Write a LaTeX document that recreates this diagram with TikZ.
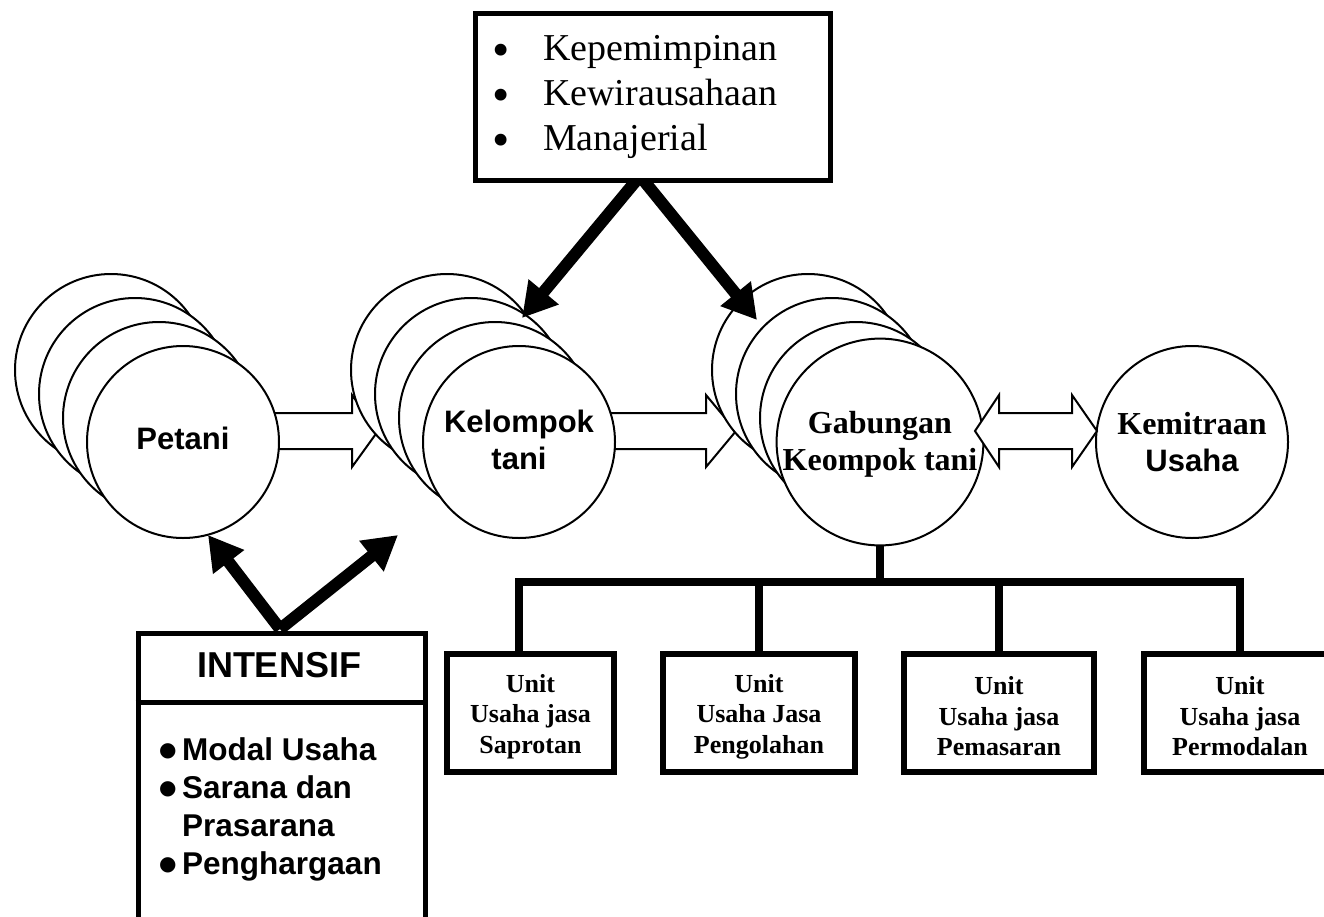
\documentclass[tikz,border=0pt]{standalone}
\usepackage{fontspec}
\setmainfont{Liberation Serif}
\newfontfamily\arialf{Liberation Sans}
\newfontfamily\djv{DejaVu Sans}
\usepackage{graphicx}
\usetikzlibrary{arrows.meta,calc}
\newcommand{\tbul}{\raisebox{-6pt}{\scalebox{1.3}{\textbullet}}}
\newcommand{\ibul}{\hspace{1pt}\raisebox{4pt}{\djv\fontsize{20}{20}\selectfont ●}}
\begin{document}
\begin{tikzpicture}[x=1pt,y=-1pt,
  circ/.style={circle, draw, fill=white, line width=2pt, minimum size=192pt, inner sep=0pt, align=center},
  sanslbl/.style={font=\arialf\bfseries\fontsize{31}{37}\selectfont},
  serlbl/.style={font=\bfseries\fontsize{32}{37}\selectfont},
  blockarr/.style={draw, fill=white, line width=2pt, line join=miter},
  thickarr/.style={line width=12pt, -{Triangle[width=37pt,length=34pt]}},
  unitbox/.style={draw, fill=white, line width=6pt, minimum height=118pt, inner sep=0pt, align=center, font=\bfseries\fontsize{26}{30.5}\selectfont},
  tree/.style={line width=7.5pt, line join=miter},
  frame/.style={draw, fill=white, line width=5pt, inner sep=0pt},
]
\path[use as bounding box, clip] (0,0) rectangle (1324,916);

% circle centres
\coordinate (cP) at (183,442);
\coordinate (cK) at (519,442);
\coordinate (cG) at (880,442);
\coordinate (cM) at (1192,442);

% hollow block arrows (under the circles)
\coordinate (a1s) at ($(cP)+(87,-11)$);
\draw[blockarr] (a1s) ++(0,-18) -- ++(82,0) -- ++(0,-18) -- ++(26,36) -- ++(-26,36) -- ++(0,-18) -- ++(-82,0) -- cycle;
\coordinate (a2s) at ($(cK)+(86,-11)$);
\draw[blockarr] (a2s) ++(0,-18) -- ++(101,0) -- ++(0,-18) -- ++(30,36) -- ++(-30,36) -- ++(0,-18) -- ++(-101,0) -- cycle;

% Petani stack
\node[circ] (pet1) at ($(cP)+(-72,-72)$) {};
\node[circ] (pet2) at ($(cP)+(-48,-48)$) {};
\node[circ] (pet3) at ($(cP)+(-24,-24)$) {};
\node[circ, sanslbl] (pet) at (cP) {Petani\rule[-7pt]{0pt}{7pt}};

% Kelompok tani stack
\node[circ] (kel1) at ($(cK)+(-72,-72)$) {};
\node[circ] (kel2) at ($(cK)+(-48,-48)$) {};
\node[circ] (kel3) at ($(cK)+(-24,-24)$) {};
\node[circ, sanslbl] (kel) at (cK) {Kelompok\\tani\rule[-4pt]{0pt}{4pt}};

% Gabungan stack
\node[circ] (gab1) at ($(cG)+(-72,-72)$) {};
\node[circ] (gab2) at ($(cG)+(-48,-48)$) {};
\node[circ] (gab3) at ($(cG)+(-24,-24)$) {};
\node[circ, serlbl] (gab) at (cG) {\rule{0pt}{26pt}Gabungan\\Keompok tani};

% Kemitraan
\node[circ, serlbl] (kem) at (cM) {Kemitraan\\{\arialf\bfseries\fontsize{31}{37}\selectfont Usaha}};

% double block arrow
\coordinate (dl) at ($(gab.center)+(95,-11)$);
\draw[blockarr] (dl) -- ++(24,-36) -- ++(0,18) -- ++(73,0) -- ++(0,-18) -- ++(25,36) -- ++(-25,36) -- ++(0,-18) -- ++(-73,0) -- ++(0,18) -- cycle;

% thick arrows from the top box
\coordinate (lfoot) at (640,176);
\coordinate (tipK) at (522,318);
\coordinate (tipG) at (757,320);
\draw[thickarr] (lfoot) -- (tipK);
\draw[thickarr] (lfoot) -- (tipG);

% top box
\node[frame, minimum width=355pt, minimum height=167pt, anchor=north west] (lead) at (472.5,10.5) {};
\node[anchor=base west, inner sep=0pt, font=\fontsize{38}{45}\selectfont] (leadtxt) at (492,60)
  {\begin{tabular}[t]{@{}p{51pt}@{}l@{}}\tbul & Kepemimpinan\\ \tbul & Kewirausahaan\\ \tbul & Manajerial\end{tabular}};

% thick arrows from INTENSIF
\coordinate (ifoot) at (280,629);
\coordinate (tipP) at (208,535);
\coordinate (tipKb) at (398,535);
\draw[thickarr] (ifoot) -- (tipP);
\draw[thickarr] (ifoot) -- (tipKb);

% INTENSIF box
\node[frame, minimum width=287pt, minimum height=340pt, anchor=north west] (intensif) at (135.5,630.5) {};
\draw[line width=5pt] (intensif.west |- 0,702) -- (intensif.east |- 0,702);
\node[anchor=base, inner sep=0pt, font=\arialf\bfseries\fontsize{36}{40}\selectfont] (ititle) at (279,677) {INTENSIF};
\node[anchor=base west, inner sep=0pt, font=\arialf\bfseries\fontsize{31.5}{38}\selectfont] (ilist) at (158,760)
  {\begin{tabular}[t]{@{}p{24pt}@{}l@{}}\ibul & Modal Usaha\\ \ibul & Sarana dan\\ & Prasarana\\ \ibul & Penghargaan\end{tabular}};

% unit boxes
\node[unitbox, minimum width=167pt] (u1) at (530.5,713) {\rule{0pt}{25pt}Unit\\Usaha jasa\\Saprotan};
\node[unitbox, minimum width=192pt] (u2) at (759,713) {\rule{0pt}{25pt}Unit\\Usaha Jasa\\Pengolahan};
\node[unitbox, minimum width=190pt] (u3) at (999,713) {\rule{0pt}{25pt}Unit\\Usaha jasa\\Pemasaran};
\node[unitbox, minimum width=192pt] (u4) at (1240,713) {\rule{0pt}{25pt}Unit\\Usaha jasa\\Permodalan};

% tree connectors
\coordinate (bar) at (878,582);
\coordinate (t1) at ($(u1.north)+(-11.5,0)$);
\draw[tree] (gab.south) -- (gab.south |- bar);
\draw[tree] (t1) |- (u4.north |- bar) -- (u4.north);
\draw[tree] (u2.north) -- (u2.north |- bar);
\draw[tree] (u3.north) -- (u3.north |- bar);
\end{tikzpicture}
\end{document}
